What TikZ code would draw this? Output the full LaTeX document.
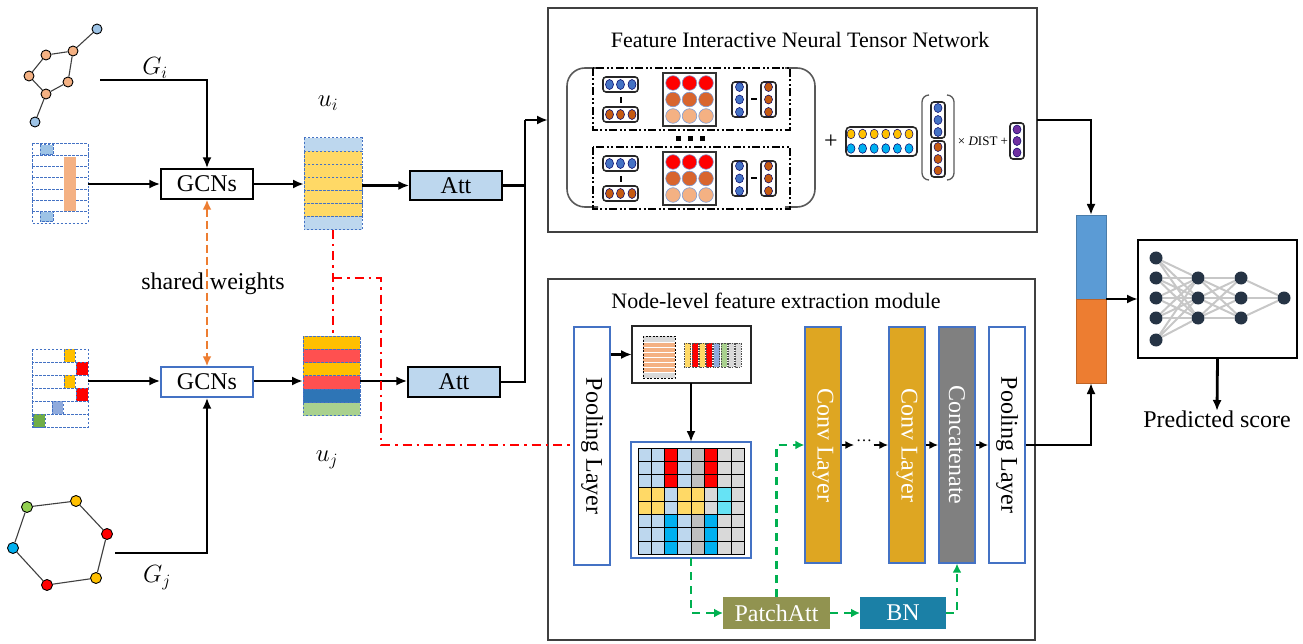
\documentclass[tikz,border=0pt]{standalone}
\usepackage{fontspec}
\setmainfont{Liberation Serif}
\usepackage{graphicx}
\usetikzlibrary{arrows.meta,calc}
\newcommand\tf{\fontsize{24}{29}\selectfont}
\newcommand\ttl{\fontsize{22}{27}\selectfont}
\definecolor{dblue}{HTML}{4472C4}
\definecolor{gOr}{HTML}{F4B183}
\definecolor{gBl}{HTML}{9DC3E6}
\definecolor{gLB}{HTML}{BDD7EE}
\definecolor{gR}{HTML}{FF0000}
\definecolor{gG}{HTML}{BFBFBF}
\definecolor{gLG}{HTML}{D9D9D9}
\definecolor{gY}{HTML}{FFD966}
\definecolor{gC}{HTML}{66E3F5}
\definecolor{gB}{HTML}{00B0F0}
\definecolor{gYe}{HTML}{FFC000}
\definecolor{gRed}{HTML}{FF5050}
\definecolor{gDB}{HTML}{2E75B6}
\definecolor{gGr}{HTML}{A9D18E}
\definecolor{gGreen}{HTML}{92D050}
\definecolor{gDG}{HTML}{70AD47}
\definecolor{gSt}{HTML}{8FAADC}
\definecolor{gOrange}{HTML}{ED7D31}
\definecolor{gLine}{HTML}{00B050}
\definecolor{gBrown}{HTML}{C55A11}
\definecolor{gMid}{HTML}{D8652E}
\definecolor{gPur}{HTML}{7030A0}
\definecolor{gConv}{RGB}{222,166,34}
\definecolor{gPatch}{RGB}{145,147,80}
\definecolor{gBN}{RGB}{27,128,166}
\definecolor{gNav}{HTML}{263445}
\definecolor{gBar}{HTML}{5B9BD5}
\tikzset{
  arr/.style={line width=2.8pt,-{Latex[length=11pt,width=9pt]}},
  sarr/.style={line width=2.4pt,-{Latex[length=9pt,width=8pt]}},
  ln/.style={line width=2.8pt},
  bx/.style={draw,line width=1.4pt,inner sep=0pt,font=\tf},
  gn/.style={circle,draw=black,line width=0.9pt,inner sep=0pt,minimum size=10pt},
  gedge/.style={draw=black!75,line width=1.1pt},
  dsh/.style={draw=dblue,line width=1pt,dash pattern=on 2.5pt off 1.5pt},
  reddd/.style={draw=red,line width=2.7pt,dash pattern=on 9pt off 5pt on 2.5pt off 5pt},
  grn/.style={draw=gLine,line width=2.7pt,dash pattern=on 8pt off 6pt},
  orn/.style={draw=gOrange,line width=2.7pt,dash pattern=on 8pt off 4pt},
  ddot/.style={line width=1.6pt,dash pattern=on 8pt off 2.5pt on 2pt off 2.5pt on 2pt off 2.5pt},
  rbox/.style={draw=black!85,line width=1.6pt,rounded corners=3pt},
  inv/.style={inner sep=0pt,outer sep=0pt},
  layerbox/.style={draw=dblue,line width=1.3pt,inner sep=0pt,minimum width=36pt,minimum height=236pt},
  nn/.style={circle,fill=gNav,inner sep=0pt,minimum size=13pt},
  nnedge/.style={draw=gLG!80!gray,line width=2pt},
}
\begin{document}
\begin{tikzpicture}[x=1pt,y=-1pt]
\useasboundingbox (0,0) rectangle (1303,644);

% ---------- top graph ----------
\node[gn,fill=gBl] (t1) at (97,29) {};
\node[gn,fill=gOr] (t2) at (73,51) {};
\node[gn,fill=gOr] (t3) at (46,55) {};
\node[gn,fill=gOr] (t4) at (29,76) {};
\node[gn,fill=gOr] (t5) at (68,82) {};
\node[gn,fill=gOr] (t6) at (46,94) {};
\node[gn,fill=gBl] (t7) at (35,122) {};
\draw[gedge] (t1)--(t2) (t2)--(t3) (t3)--(t4) (t4)--(t6) (t6)--(t5) (t5)--(t2) (t6)--(t7);

% ---------- bottom graph ----------
\node[gn,fill=gGreen,minimum size=11pt] (b1) at (27,507) {};
\node[gn,fill=gYe,minimum size=11pt] (b2) at (76,501) {};
\node[gn,fill=gR,minimum size=11pt] (b3) at (107,534) {};
\node[gn,fill=gYe,minimum size=11pt] (b4) at (96,578) {};
\node[gn,fill=gR,minimum size=11pt] (b5) at (47,585) {};
\node[gn,fill=gB,minimum size=11pt] (b6) at (13,548) {};
\draw[gedge] (b1)--(b2) (b2)--(b3) (b3)--(b4) (b4)--(b5) (b5)--(b6) (b6)--(b1);

% ---------- top matrix ----------
\node[inv,minimum width=56pt,minimum height=79pt] (m1) at (60,183.5) {};
\foreach \k in {0,...,6}{\draw[dsh] (32,144+\k*11.29) rectangle (88,144+\k*11.29+11.29);}
\filldraw[dsh,fill=gBl] (40,145) rectangle (53,155);
\filldraw[dsh,fill=gBl] (40,212) rectangle (53,222);
\fill[gOr] (64,157) rectangle (76,211);

% ---------- bottom matrix ----------
\node[inv,minimum width=56pt,minimum height=78pt] (m2) at (60,388) {};
\foreach \k in {0,...,5}{\draw[dsh] (32,349+\k*13) rectangle (88,349+\k*13+13);}
\filldraw[dsh,fill=gYe] (64,349) rectangle (75,362);
\filldraw[dsh,fill=gR] (76,362) rectangle (88,375);
\filldraw[dsh,fill=gYe] (64,375) rectangle (75,388);
\filldraw[dsh,fill=gR] (76,388) rectangle (88,401);
\filldraw[dsh,fill=gSt] (52,401) rectangle (63,414);
\filldraw[dsh,fill=gDG] (33,414) rectangle (45,427);

% ---------- GCNs ----------
\node[bx,minimum width=92pt,minimum height=30pt] (gcn1) at (207,184) {GCNs};
\node[bx,draw=dblue,minimum width=92pt,minimum height=30pt] (gcn2) at (207,382) {GCNs};
\coordinate (gi) at (100,80);
\coordinate (gj) at (115,553);
\node[font=\tf] (gil) at (155,68) {$G_i$};
\node[font=\tf] (gjl) at (157,578) {$G_j$};
\draw[arr] (gi) -| (gcn1.north);
\draw[arr] (gj) -| (gcn2.south);
\draw[arr] (m1.east |- gcn1) -- (gcn1.west);
\draw[arr] (m2.east |- 0,381) -- (gcn2.west |- 0,381);
\node[font=\tf] (sw) at (213,284) {shared weights};
\draw[orn,{Latex[length=10pt,width=9pt]}-{Latex[length=10pt,width=9pt]}] (gcn1.south) -- (gcn2.north);

% ---------- u_i, u_j ----------
\node[inv,minimum width=58pt,minimum height=92pt] (ui) at (333,184) {};
\foreach \k/\c in {0/gLB,1/gY,2/gY,3/gY,4/gY,5/gY,6/gLB}{\filldraw[dsh,fill=\c] (304,138+\k*13.14) rectangle (362,138+\k*13.14+13.14);}
\node[inv,minimum width=57pt,minimum height=80pt] (uj) at (331.5,376) {};
\foreach \k/\c in {0/gYe,1/gRed,2/gYe,3/gRed,4/gDB,5/gGr}{\filldraw[dsh,fill=\c] (303,336+\k*13.33) rectangle (360,336+\k*13.33+13.33);}
\node[font=\tf] (uil) at (328,103) {$u_i$};
\node[font=\tf] (ujl) at (327,460) {$u_j$};
\draw[arr] (gcn1.east) -- (ui.west);
\draw[arr] (gcn2.east |- 0,381) -- (uj.west |- 0,381);

% ---------- Att ----------
\node[bx,fill=gLB,minimum width=92pt,minimum height=29pt] (att1) at (456,185.5) {Att};
\node[bx,fill=gLB,minimum width=92pt,minimum height=30pt] (att2) at (454,382) {Att};
\draw[arr] (ui.east |- att1) -- (att1.west);
\draw[arr] (uj.east |- 0,381) -- (att2.west |- 0,381);

% ---------- FINTN box ----------
\node[draw=black!75,line width=1.6pt,inv,minimum width=489pt,minimum height=224pt] (fintn) at (792.5,120) {};
\node[font=\ttl] (ftitle) at (800,40) {Feature Interactive Neural Tensor Network};
\coordinate (junc) at (525,120);
\draw[ln] (att1.east) -| (junc);
\draw[ln] (att2.east) -| (junc);
\draw[arr] (junc) -- (junc -| fintn.west);

% brackets
\draw[draw=black!65,line width=1.6pt,rounded corners=18pt] (598,68) -- (567,68) -- (567,207) -- (598,207);
\draw[draw=black!65,line width=1.6pt,rounded corners=18pt] (785,68) -- (815,68) -- (815,207) -- (785,207);
\foreach \dy in {0,79}{
\begin{scope}[shift={(0,\dy)}]
  \draw[ddot] (593,68) rectangle (790,130);
  \draw[rbox] (603,77) rectangle (638,92);
  \foreach \x in {609.5,620.5,632}{\filldraw[fill=dblue,draw=blue!40!black,line width=0.5pt] (\x,84.5) ellipse [x radius=4pt,y radius=5pt];}
  \draw[line width=2pt] (620.5,97) -- (620.5,103);
  \draw[rbox] (603,107) rectangle (638,122);
  \foreach \x in {609.5,620.5,632}{\filldraw[fill=gBrown,draw=blue!40!black,line width=0.5pt] (\x,114.5) ellipse [x radius=4pt,y radius=5pt];}
  \draw[draw=black!80,line width=1.8pt] (663,73) rectangle (716,126);
  \foreach \x in {673,689.5,706}{
    \filldraw[fill=gR,draw=dblue!70,line width=0.6pt] (\x,83) circle [radius=7.3pt];
    \filldraw[fill=gMid,draw=dblue!70,line width=0.6pt] (\x,99.5) circle [radius=7.3pt];
    \filldraw[fill=gOr,draw=dblue!70,line width=0.6pt] (\x,116) circle [radius=7.3pt];}
  \draw[rbox] (732,82) rectangle (747,117);
  \foreach \y in {87,99.5,112}{\filldraw[fill=dblue,draw=blue!40!black,line width=0.5pt] (739.5,\y) ellipse [x radius=4pt,y radius=4.5pt];}
  \draw[line width=2pt] (751,99.5) -- (757,99.5);
  \draw[rbox] (761,82) rectangle (776,117);
  \foreach \y in {87,99.5,112}{\filldraw[fill=gBrown,draw=blue!40!black,line width=0.5pt] (768.5,\y) ellipse [x radius=4pt,y radius=4.5pt];}
\end{scope}}
\foreach \x in {678,690,702}{\fill (\x-2.5,136.5) rectangle (\x+2.5,141.5);}
\node[font=\tf] (plus1) at (831,142) {+};
\draw[rbox,rounded corners=4pt] (846,127) rectangle (917,156);
\foreach \k in {0,...,5}{
  \filldraw[fill=gYe,draw=blue!40!black,line width=0.5pt] (851+\k*11.6,134) ellipse [x radius=4pt,y radius=4.8pt];
  \filldraw[fill=gB,draw=blue!40!black,line width=0.5pt] (851+\k*11.6,148.5) ellipse [x radius=4pt,y radius=4.8pt];}
\draw[draw=black!65,line width=1.3pt,rounded corners=7pt] (929,95) -- (922,95) -- (922,180) -- (929,180);
\draw[draw=black!65,line width=1.3pt,rounded corners=7pt] (947,95) -- (954,95) -- (954,180) -- (947,180);
\draw[rbox] (931,102) rectangle (945,138);
\foreach \y in {108,120,132}{\filldraw[fill=dblue,draw=blue!40!black,line width=0.5pt] (938,\y) ellipse [x radius=4pt,y radius=4.5pt];}
\draw[rbox] (931,141) rectangle (945,177);
\foreach \y in {147,159,170.5}{\filldraw[fill=gBrown,draw=blue!40!black,line width=0.5pt] (938,\y) ellipse [x radius=4pt,y radius=4.5pt];}
\node[font=\fontsize{13}{15}\selectfont] (dist) at (983,141) {× \textit{D}IST +};
\draw[rbox] (1010,123) rectangle (1024,159);
\foreach \y in {129.5,141,152.5}{\filldraw[fill=gPur,draw=blue!40!black,line width=0.5pt] (1017,\y) ellipse [x radius=4pt,y radius=4.5pt];}

% ---------- module box ----------
\node[draw=black!75,line width=1.6pt,inv,minimum width=487pt,minimum height=361pt] (mod) at (791.5,459.5) {};
\node[font=\ttl] (mtitle) at (776,301) {Node-level feature extraction module};
\node[layerbox,fill=white,minimum height=238pt,font=\tf] (pool1) at (592,446) {\rotatebox{-90}{Pooling Layer}};
\coordinate (rb) at (ui.south |- 0,278);
\draw[reddd] (ui.south) -- (ui.south |- uj.north);
\draw[reddd] (rb) -- (381,278) -- (381,445) -- (pool1.west |- 0,445);

% small box
\node[draw=black!85,line width=1.6pt,inv,minimum width=119pt,minimum height=57pt] (sb) at (691.5,354.5) {};
\fill[gLG] (643,336) rectangle (675,342);
\foreach \k in {0,...,5}{\fill[gOr] (643,342.5+\k*5+0.5) rectangle (675,342.5+\k*5+4.5);}
\fill[gLG] (643,373) rectangle (675,378);
\draw[line width=0.8pt,dash pattern=on 2pt off 1.5pt] (643,336) rectangle (675,378);
\foreach \k/\c in {0/gY,1/gR,2/gY,3/gR,4/gSt,5/gGr,6/gLG,7/gLG}{
  \filldraw[fill=\c,draw=black!70,line width=0.4pt,dash pattern=on 1.5pt off 1pt] (684+\k*7.25+0.6,343) rectangle (684+\k*7.25+6.6,367);}
\draw[arr] (pool1.east |- sb.west) -- (sb.west);

% grid box
\node[draw=dblue,line width=1.3pt,fill=white,inv,minimum width=120pt,minimum height=116pt] (gb) at (691,500) {};
\foreach \r in {0,1,2}{\foreach \c [count=\i from 0] in {gLB,gLB,gR,gLB,gG,gR,gLG,gLG}{\filldraw[fill=\c,draw=black,line width=1pt] (638+\i*13.3,448+\r*13.3) rectangle ++(13.3,13.3);}}
\foreach \r in {3,4}{\foreach \c [count=\i from 0] in {gY,gY,gLB,gY,gY,gLG,gC,gLG}{\filldraw[fill=\c,draw=black,line width=1pt] (638+\i*13.3,448+\r*13.3) rectangle ++(13.3,13.3);}}
\foreach \r in {5,6,7}{\foreach \c [count=\i from 0] in {gLB,gLB,gB,gLB,gG,gB,gLG,gLG}{\filldraw[fill=\c,draw=black,line width=1pt] (638+\i*13.3,448+\r*13.3) rectangle ++(13.3,13.3);}}
\draw[arr] (sb.south -| gb.north) -- (gb.north);

% layers
\node[layerbox,fill=gConv,text=white,font=\tf] (conv1) at (823,445) {\rotatebox{-90}{Conv Layer}};
\node[layerbox,fill=gConv,text=white,font=\tf] (conv2) at (907,445) {\rotatebox{-90}{Conv Layer}};
\node[layerbox,fill=black!50,text=white,font=\tf] (concat) at (957,445) {\rotatebox{-90}{Concatenate}};
\node[layerbox,fill=white,font=\tf] (pool2) at (1007,445) {\rotatebox{-90}{Pooling Layer}};
\node[inner sep=1.5pt,font=\fontsize{16}{18}\selectfont] (dots) at (864,441) {\ldots};
\draw[sarr] (conv1.east) -- (dots.west |- conv1.east);
\draw[sarr] (dots.east |- conv2.west) -- (conv2.west);
\draw[sarr] (conv2.east) -- (concat.west);
\draw[sarr] (concat.east) -- (pool2.west);

% PatchAtt, BN
\node[inv,fill=gPatch,text=white,font=\tf,minimum width=107pt,minimum height=32pt] (patch) at (776.5,613) {PatchAtt};
\node[inv,fill=gBN,text=white,font=\tf,minimum width=86pt,minimum height=32pt] (bn) at (903,613) {BN};
\draw[grn,-{Latex[length=9pt,width=9pt]}] (gb.south) |- (patch.west);
\draw[grn,-{Latex[length=9pt,width=9pt]}] (patch.east) -- (bn.west);
\draw[grn,-{Latex[length=9pt,width=9pt]}] (patch.north) |- (conv1.west);
\draw[grn,-{Latex[length=9pt,width=9pt]}] (bn.east) -| (concat.south);

% ---------- concat bar and NN ----------
\node[inv,fill=gBar,draw=gBar!80!black,line width=0.6pt,minimum width=30pt,minimum height=84pt] (barb) at (1091,257) {};
\node[inv,fill=gOrange,draw=gOrange!80!black,line width=0.6pt,minimum width=30pt,minimum height=84pt] (baro) at (1091,341) {};
\draw[arr] (fintn.east) -| (barb.north);
\draw[arr] (pool2.east) -| (baro.south);
\node[draw=black,line width=2.4pt,inv,minimum width=159pt,minimum height=118pt] (nnbox) at (1217.5,299) {};
\draw[arr] (barb.south east) -- (nnbox.west);
\foreach \y [count=\i] in {258,278,298,318,340}{\node[nn] (a\i) at (1156,\y) {};}
\foreach \y [count=\i] in {278,298,318}{\node[nn] (h\i) at (1198,\y) {};}
\foreach \y [count=\i] in {278,298,318}{\node[nn] (k\i) at (1241,\y) {};}
\node[nn] (o1) at (1284,298) {};
\foreach \i in {1,...,5}{\foreach \j in {1,2,3}{\draw[nnedge] (a\i) -- (h\j);}}
\foreach \i in {1,2,3}{\foreach \j in {1,2,3}{\draw[nnedge] (h\i) -- (k\j);}}
\foreach \i in {1,2,3}{\draw[nnedge] (k\i) -- (o1);}
\node[font=\tf,inner sep=0pt,anchor=north] (ps) at (1217,411) {Predicted score};
\draw[arr] (nnbox.south) -- (ps.north);
\end{tikzpicture}
\end{document}
